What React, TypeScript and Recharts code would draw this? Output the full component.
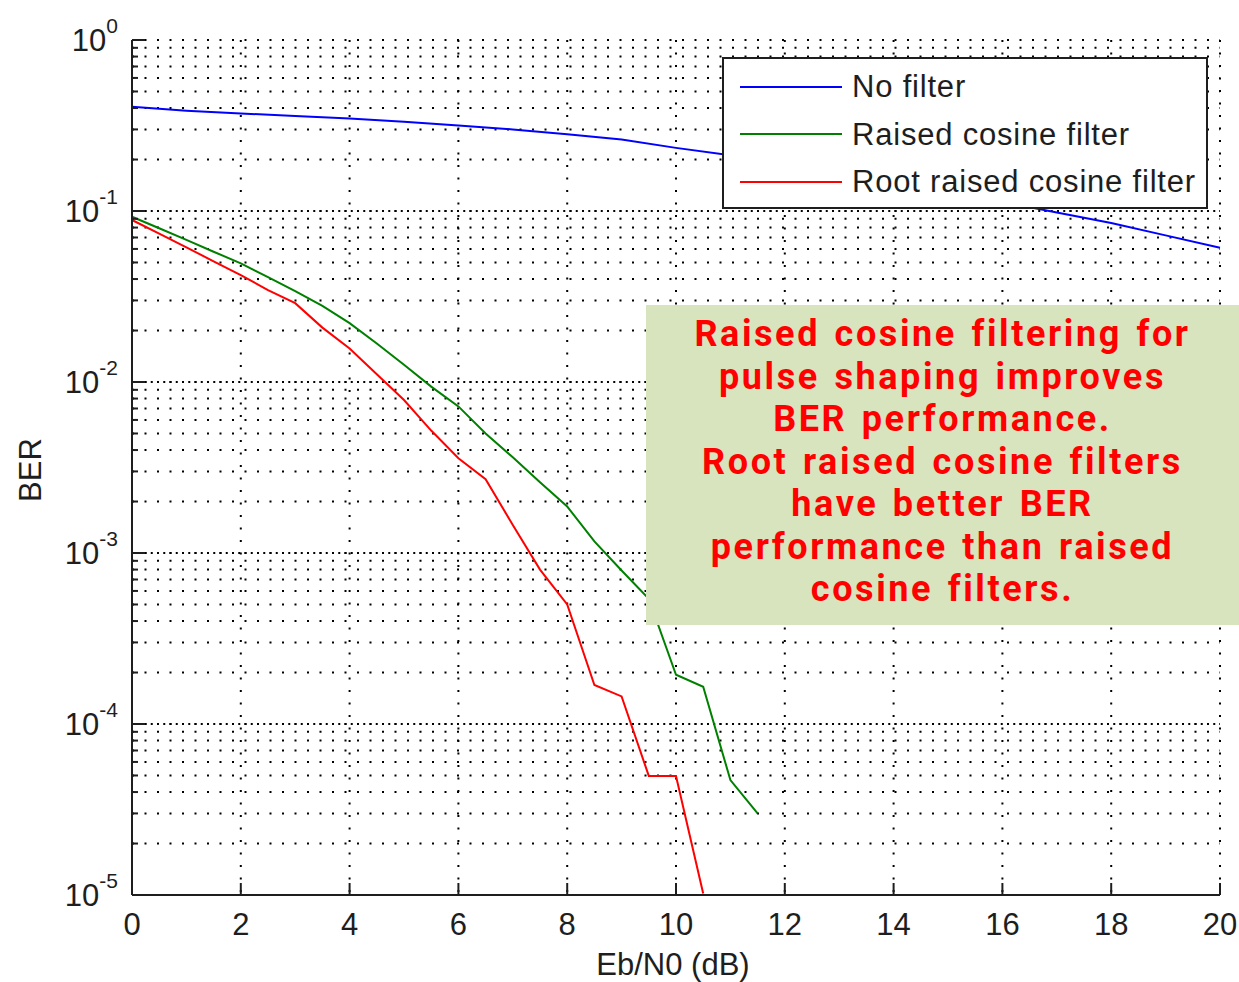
import { LineChart, Line, XAxis, YAxis, CartesianGrid, ReferenceLine, Legend } from 'recharts';

// Eb/N0 points (dB) and measured BER for each receiver
const EBN0_COARSE = [0, 1, 2, 3, 4, 5, 6, 7, 8, 9, 10, 11, 12, 13, 14, 15, 16, 17, 18, 19, 20];
const NO_FILTER_BER = [
  0.407, 0.386, 0.372, 0.359, 0.347, 0.333, 0.316, 0.3, 0.281, 0.262, 0.234,
  0.212, 0.19, 0.168, 0.148, 0.13, 0.113, 0.098, 0.085, 0.072, 0.061,
];

const EBN0_FINE = [0, 0.5, 1, 1.5, 2, 2.5, 3, 3.5, 4, 4.5, 5, 5.5, 6, 6.5, 7, 7.5, 8, 8.5, 9, 9.5, 10, 10.5, 11, 11.5];
const RC_BER = [
  0.0926, 0.0793, 0.0678, 0.0578, 0.0494, 0.041, 0.034, 0.0279, 0.0221, 0.0168, 0.0126, 0.0094,
  0.0072, 0.005, 0.00363, 0.00259, 0.00187, 0.00117, 0.00079, 0.00054, 0.000194, 0.000165, 0.000047, 0.00003,
];
const RRC_BER = [
  0.0886, 0.0737, 0.0613, 0.0508, 0.0422, 0.0345, 0.0289, 0.0208, 0.0157, 0.0111, 0.00785, 0.0052,
  0.00358, 0.0027, 0.00146, 0.0008, 0.0005, 0.000169, 0.000145, 0.0000497, 0.0000497, 0.0000102,
];

const X_TICKS = [0, 2, 4, 6, 8, 10, 12, 14, 16, 18, 20];
const DECADES = [1e-5, 1e-4, 1e-3, 1e-2, 1e-1, 1];
const MANTISSAS = [1, 2, 3, 4, 5, 6, 7, 8, 9];

const NOTE_LINES = [
  'Raised cosine filtering for',
  'pulse shaping improves',
  'BER performance.',
  'Root raised cosine filters',
  'have better BER',
  'performance than raised',
  'cosine filters.',
];

const xs = Array.from(new Set([...EBN0_COARSE, ...EBN0_FINE])).sort((a, b) => a - b);
const data = xs.map((x) => {
  const i = EBN0_COARSE.indexOf(x);
  const j = EBN0_FINE.indexOf(x);
  return {
    x,
    nofilter: i >= 0 ? NO_FILTER_BER[i] : undefined,
    rc: j >= 0 && j < RC_BER.length ? RC_BER[j] : undefined,
    rrc: j >= 0 && j < RRC_BER.length ? RRC_BER[j] : undefined,
  };
});

const yTicks = DECADES.slice(0, -1).flatMap((d) => MANTISSAS.map((m) => m * d)).concat([1]);
const isMajor = (v: number) => Math.abs(Math.log10(v) - Math.round(Math.log10(v))) < 1e-6;

const FONT = '"Liberation Sans", Arial, sans-serif';
const INK = '#1e1e1e';

const LeftTick = ({ x, y, payload }: any) => {
  const v = payload.value;
  const major = isMajor(v);
  return (
    <g>
      <line x1={x} x2={x + (major ? 13 : 6)} y1={y} y2={y} stroke={INK} strokeWidth={2} />
      {major && (
        <text x={x - 14} y={y + 11} textAnchor="end" fontSize={31} fill={INK} fontFamily={FONT}>
          10
          <tspan dy={-18} fontSize={21}>{Math.round(Math.log10(v))}</tspan>
        </text>
      )}
    </g>
  );
};

const RightTick = ({ x, y, payload }: any) => {
  const major = isMajor(payload.value);
  return <line x1={x} x2={x - (major ? 13 : 6)} y1={y} y2={y} stroke={INK} strokeWidth={2} />;
};

const BottomTick = ({ x, y, payload }: any) => (
  <g>
    <line x1={x} x2={x} y1={y} y2={y - 12} stroke={INK} strokeWidth={2} />
    <text x={x} y={y + 40} textAnchor="middle" fontSize={31} fill={INK} fontFamily={FONT}>
      {payload.value}
    </text>
  </g>
);

const TopTick = ({ x, y }: any) => <line x1={x} x2={x} y1={y} y2={y + 12} stroke={INK} strokeWidth={2} />;

const LegendBox = ({ payload }: any) => (
  <div
    style={{
      width: 482,
      height: 148,
      border: `2px solid ${INK}`,
      background: '#fff',
      fontFamily: FONT,
      fontSize: 31,
      letterSpacing: 0.8,
      color: INK,
      boxSizing: 'content-box',
    }}
  >
    {(payload || []).map((p: any) => (
      <div key={p.value} style={{ display: 'flex', alignItems: 'center', height: 47.5, marginTop: p.value === 'No filter' ? 4 : 0 }}>
        <div style={{ width: 102, height: 2, background: p.color, marginLeft: 16, marginRight: 10 }} />
        <span style={{ lineHeight: '47px' }}>{p.value}</span>
      </div>
    ))}
  </div>
);

export default function App() {
  return (
    <div style={{ position: 'absolute', left: 0, top: 0, width: 1239, height: 982, background: '#fff', overflow: 'hidden' }}>
      <LineChart width={1239} height={982} data={data} margin={{ top: 40, right: 19, left: 52, bottom: 27 }}>
        <CartesianGrid stroke="#000" strokeWidth={2} strokeDasharray="2 10.5" />
        {DECADES.slice(1, -1).map((d) => (
          <ReferenceLine key={d} y={d} stroke="#000" strokeWidth={2} strokeDasharray="2 4.25" />
        ))}
        <XAxis
          dataKey="x"
          type="number"
          domain={[0, 20]}
          ticks={X_TICKS}
          interval={0}
          height={60}
          tickSize={0}
          tickMargin={0}
          tickLine={false}
          axisLine={{ stroke: INK, strokeWidth: 2 }}
          tick={<BottomTick />}
          label={{
            content: () => (
              <text x={673} y={975} textAnchor="middle" fontSize={31} fill={INK} fontFamily={FONT}>
                Eb/N0 (dB)
              </text>
            ),
          }}
        />
        <XAxis
          xAxisId="top"
          dataKey="x"
          type="number"
          orientation="top"
          domain={[0, 20]}
          ticks={X_TICKS}
          interval={0}
          height={0}
          tickSize={0}
          tickMargin={0}
          tickLine={false}
          axisLine={{ stroke: INK, strokeWidth: 2 }}
          tick={<TopTick />}
        />
        <YAxis
          scale="log"
          type="number"
          domain={[1e-5, 1]}
          allowDataOverflow
          ticks={yTicks}
          interval={0}
          width={80}
          tickSize={0}
          tickMargin={0}
          tickLine={false}
          axisLine={{ stroke: INK, strokeWidth: 2 }}
          tick={<LeftTick />}
          label={{
            content: () => (
              <text x={41} y={470} transform="rotate(-90 41 470)" textAnchor="middle" fontSize={31} fill={INK} fontFamily={FONT}>
                BER
              </text>
            ),
          }}
        />
        <YAxis
          yAxisId="right"
          orientation="right"
          scale="log"
          type="number"
          domain={[1e-5, 1]}
          allowDataOverflow
          ticks={yTicks}
          interval={0}
          width={0}
          tickSize={0}
          tickMargin={0}
          tickLine={false}
          axisLine={{ stroke: INK, strokeWidth: 2 }}
          tick={<RightTick />}
        />
        <Line type="linear" dataKey="nofilter" name="No filter" stroke="#0000ff" strokeWidth={2} dot={false} connectNulls isAnimationActive={false} />
        <Line type="linear" dataKey="rc" name="Raised cosine filter" stroke="#008000" strokeWidth={2} dot={false} isAnimationActive={false} />
        <Line type="linear" dataKey="rrc" name="Root raised cosine filter" stroke="#ff0000" strokeWidth={2} dot={false} isAnimationActive={false} />
        <Legend
          layout="horizontal"
          align="center"
          verticalAlign="middle"
          content={<LegendBox />}
          wrapperStyle={{ position: 'absolute', left: 722, top: 57, width: 486, height: 152, bottom: 'auto' }}
        />
      </LineChart>
      <div
        style={{
          position: 'absolute',
          left: 646,
          top: 305,
          width: 593,
          height: 320,
          background: '#d7e4bd',
          color: '#ff0000',
          fontFamily: 'Roboto, "Liberation Sans", sans-serif',
          fontWeight: 700,
          fontSize: 36,
          letterSpacing: 2.6,
          wordSpacing: 3,
          lineHeight: '42.5px',
          textAlign: 'center',
          paddingTop: 8,
          boxSizing: 'border-box',
          whiteSpace: 'nowrap',
        }}
      >
        {NOTE_LINES.map((t) => (
          <div key={t}>{t}</div>
        ))}
      </div>
    </div>
  );
}
